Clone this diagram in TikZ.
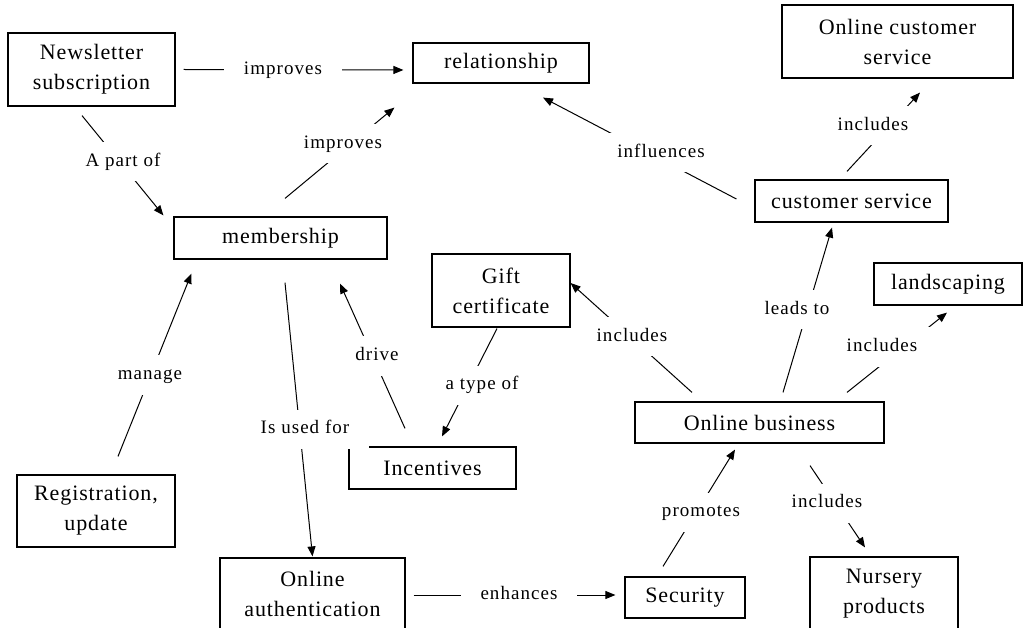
\documentclass[tikz,border=0pt]{standalone}
\usepackage{fontspec}
\newfontfamily\conceptfont{Liberation Serif}[LetterSpace=4]
\newfontfamily\linkfont{Liberation Serif}[LetterSpace=5.5]
\usetikzlibrary{arrows.meta,calc}

\begin{document}
\begin{tikzpicture}[x=1pt, y=-1pt,
		concept/.style={draw, line width=1.2pt, inner sep=0pt, align=center, font=\conceptfont\fontsize{22}{30}\selectfont},
		link/.style={line width=1pt, -{Triangle[length=10pt,width=8pt]}},
		phrase/.style={fill=white, inner xsep=20pt, inner ysep=11pt, text height=13pt, text depth=4pt, font=\linkfont\fontsize{19}{23}\selectfont}]
		\fill[white] (0,0) rectangle (1031,628);
		\useasboundingbox (0,0) rectangle (1031,628);

		\node[concept, minimum width=167pt, minimum height=73pt] (news) at (91.5,69.5) {Newsletter\\subscription};
		\node[concept, minimum width=176pt, minimum height=40pt] (rel) at (501,63) {relationship};
		\node[concept, minimum width=231pt, minimum height=73pt] (ocs) at (897.5,41.5) {Online customer\\service};
		\node[concept, minimum width=213pt, minimum height=42pt] (memb) at (280.5,238) {membership};
		\node[concept, minimum width=193pt, minimum height=42pt] (cs) at (851.5,201) {customer service};
		\node[concept, minimum width=138pt, minimum height=73pt] (gift) at (501,290.5) {Gift\\certificate};
		\node[concept, minimum width=148pt, minimum height=42pt] (land) at (948,284) {landscaping};
		\node[concept, minimum width=249pt, minimum height=41pt] (ob) at (759.5,422.5) {Online business};
		\node[concept, minimum width=167pt, minimum height=42pt] (inc) at (432.5,468) {Incentives};
		\node[concept, minimum width=158pt, minimum height=72pt] (reg) at (96,511) {Registration,\\update};
		\node[concept, minimum width=185pt, minimum height=72pt] (auth) at (312.5,594) {Online\\authentication};
		\node[concept, minimum width=120pt, minimum height=41pt] (sec) at (685,597.5) {Security};
		\node[concept, minimum width=148pt, minimum height=73pt] (nurs) at (884,593.5) {Nursery\\products};

		\draw[link] ($(news.east)+(8,0)$) -- ($(rel.west)+(-9,7)$);
		\node[phrase] (improvesNews) at (283,70) {improves};
		\draw[link] ($(news.south)+(-9.5,9)$) -- ($(memb.north west)+(-10,-1)$);
		\node[phrase] (partOf) at (123,162) {A part of};
		\draw[link] ($(memb.north)+(4.5,-18)$) -- ($(rel.south west)+(-18,24)$);
		\node[phrase] (improvesMemb) at (343,144) {improves};
		\draw[link] ($(reg.north)+(22,-18)$) -- ($(memb.south west)+(18,14)$);
		\node[phrase] (manage) at (150,375) {manage};
		\draw[link] ($(memb.south)+(4.5,23)$) -- ($(auth.north)+(0,-1)$);
		\node[phrase] (usedFor) at (305,429) {Is used for};
		\draw[link] ($(inc.north)+(-27.5,-18)$) -- ($(memb.south)+(59.5,24)$);
		\node[phrase] (drive) at (377,356) {drive};
		\draw[link] ($(gift.south)+(-4,1)$) -- ($(inc.north)+(9.5,-10)$);
		\node[phrase] (typeOf) at (482,385) {a type of};
		\draw[link] ($(ob.north)+(-67.5,-9)$) -- ($(gift.east)+(0,-7.5)$);
		\node[phrase] (includesGift) at (632,337) {includes};
		\draw[link] ($(ob.north)+(23.5,-9)$) -- ($(cs.south)+(-19.5,5)$);
		\node[phrase] (leadsTo) at (797,310) {leads to};
		\draw[link] ($(ob.north)+(87.5,-9)$) -- ($(land.south)+(-1,7)$);
		\node[phrase] (includesLand) at (882,347) {includes};
		\draw[link] ($(ob.south)+(50.5,22)$) -- ($(nurs.north)+(-19,-9)$);
		\node[phrase] (includesNurs) at (827,503) {includes};
		\draw[link] ($(sec.north)+(-22,-10)$) -- ($(ob.south)+(-24.5,6)$);
		\node[phrase] (promotes) at (701,512) {promotes};
		\draw[link] ($(auth.east)+(8,1)$) -- ($(sec.west)+(-9,-2.5)$);
		\node[phrase] (enhances) at (519,595) {enhances};
		\draw[link] ($(cs.west)+(-18,-2)$) -- ($(rel.south)+(42,14)$);
		\node[phrase] (influences) at (661,153) {influences};
		\draw[link] ($(cs.north)+(-4.5,-8)$) -- ($(ocs.south)+(22.5,14)$);
		\node[phrase] (includesOcs) at (873,126) {includes};
	\end{tikzpicture}
\end{document}
